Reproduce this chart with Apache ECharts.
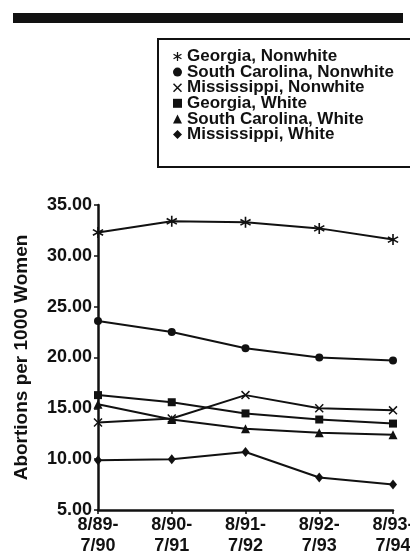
<!DOCTYPE html>
<html>
<head>
<meta charset="utf-8">
<script src="https://cdn.jsdelivr.net/npm/echarts@6/dist/echarts.min.js"></script>
<style>
  html, body { margin: 0; padding: 0; background: #fff; }
  #chart { width: 410px; height: 559px; }
</style>
</head>
<body>
<div id="chart"></div>
<script>
// data
var categories = ['8/89-\n7/90', '8/90-\n7/91', '8/91-\n7/92', '8/92-\n7/93', '8/93-\n7/94'];
var georgiaNonwhite = [32.3, 33.4, 33.3, 32.7, 31.6];
var scNonwhite = [23.6, 22.5, 20.9, 20.0, 19.7];
var msNonwhite = [13.6, 14.0, 16.3, 15.0, 14.8];
var georgiaWhite = [16.3, 15.6, 14.5, 13.9, 13.5];
var scWhite = [15.4, 13.9, 13.0, 12.6, 12.4];
var msWhite = [9.9, 10.0, 10.7, 8.2, 7.5];
var yTicks = { min: 5, max: 35, interval: 5 };

// marker shapes
var asterisk = 'path://M8.6 0L11.4 0L11.4 20L8.6 20Z' +
  'M1.94 3.76L19.46 13.86L18.06 16.24L0.54 6.14Z' +
  'M19.46 6.14L1.94 16.24L0.54 13.86L18.06 3.76Z';
var cross = 'path://M3.85 2.01L17.99 16.15L16.15 17.99L2.01 3.85Z' +
  'M17.99 3.85L3.85 17.99L2.01 16.15L16.15 2.01Z';

var ink = '#111';
var font = '"Liberation Sans", Arial, sans-serif';

function makeSeries(name, data, symbol, size) {
  return {
    name: name,
    type: 'line',
    data: data,
    symbol: symbol,
    symbolSize: size,
    showAllSymbol: true,
    lineStyle: { color: ink, width: 2 },
    itemStyle: { color: ink },
    emphasis: { disabled: true }
  };
}

var chartDom = document.getElementById('chart');
var myChart = echarts.init(chartDom);
var option;

option = {
  backgroundColor: '#fff',
  animation: false,
  graphic: [
    {
      type: 'rect',
      shape: { x: 13, y: 13, width: 390, height: 10 },
      style: { fill: ink }
    },
    {
      type: 'rect',
      shape: { x: 158, y: 39, width: 262, height: 128 },
      style: { fill: 'none', stroke: ink, lineWidth: 2 }
    }
  ],
  legend: {
    orient: 'vertical',
    left: 168,
    top: 43,
    itemWidth: 9,
    itemHeight: 9,
    itemGap: -1.4,
    textStyle: { color: ink, fontFamily: font, fontWeight: 'bold', fontSize: 17, lineHeight: 15 },
    data: [
      { name: 'Georgia, Nonwhite', icon: asterisk },
      { name: 'South Carolina, Nonwhite', icon: 'circle' },
      { name: 'Mississippi, Nonwhite', icon: cross },
      { name: 'Georgia, White', icon: 'rect' },
      { name: 'South Carolina, White', icon: 'triangle' },
      { name: 'Mississippi, White', icon: 'diamond' }
    ]
  },
  grid: {
    left: 98,
    right: 17,
    top: 205,
    bottom: 49,
    outerBoundsMode: 'none'
  },
  xAxis: {
    type: 'category',
    data: categories,
    boundaryGap: false,
    axisLine: { lineStyle: { color: ink, width: 2.5 } },
    axisTick: { show: true, length: 4, lineStyle: { color: ink, width: 1.5 } },
    axisLabel: {
      color: ink, fontFamily: font, fontWeight: 'bold', fontSize: 18,
      lineHeight: 21, margin: 5, interval: 0
    },
    splitLine: { show: false }
  },
  yAxis: {
    type: 'value',
    min: yTicks.min,
    max: yTicks.max,
    interval: yTicks.interval,
    name: 'Abortions per 1000 Women',
    nameLocation: 'middle',
    nameRotate: 90,
    nameGap: 67,
    nameTextStyle: { color: ink, fontFamily: font, fontWeight: 'bold', fontSize: 19 },
    axisLine: { show: true, lineStyle: { color: ink, width: 2.5 } },
    axisTick: { show: true, length: 4, lineStyle: { color: ink, width: 1.5 } },
    axisLabel: {
      color: ink, fontFamily: font, fontWeight: 'bold', fontSize: 18, margin: 6,
      formatter: function (v) { return v.toFixed(2); }
    },
    splitLine: { show: false }
  },
  series: [
    makeSeries('Georgia, Nonwhite', georgiaNonwhite, asterisk, 11),
    makeSeries('South Carolina, Nonwhite', scNonwhite, 'circle', 8),
    makeSeries('Mississippi, Nonwhite', msNonwhite, cross, 9),
    makeSeries('Georgia, White', georgiaWhite, 'rect', 8),
    makeSeries('South Carolina, White', scWhite, 'triangle', 9),
    makeSeries('Mississippi, White', msWhite, 'diamond', [8, 10])
  ]
};

option && myChart.setOption(option);
window.addEventListener('resize', function () { myChart.resize(); });
</script>
</body>
</html>
